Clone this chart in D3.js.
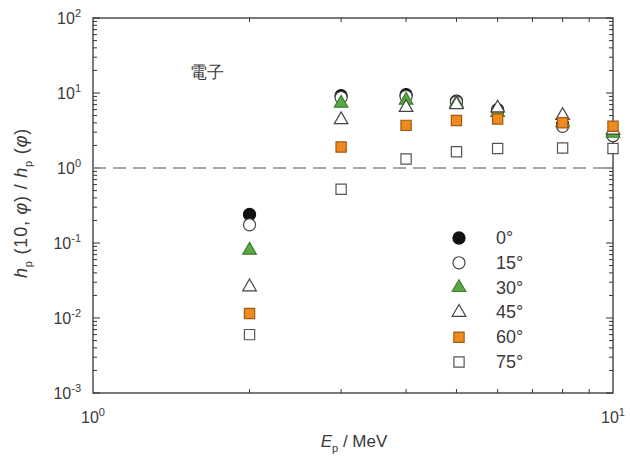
<!DOCTYPE html>
<html>
<head>
<meta charset="utf-8">
<script src="https://cdn.jsdelivr.net/npm/d3@7"></script>
<style>
  body { margin: 0; background: #fff; }
  text { font-family: "Liberation Sans", Arial, sans-serif; fill: #3a3a3a; }
</style>
</head>
<body>
<div id="chart"></div>
<script>
// energies (MeV)
const energies = [2, 3, 4, 5, 6, 8, 10];
const angles = ["0°", "15°", "30°", "45°", "60°", "75°"];
// ratio hp(10,φ)/hp(φ) for each angle
const r0 = [0.24, 9.2, 9.5, 7.8, 6.0, 3.8, 2.7];
const r15 = [0.175, 8.7, 9.0, 7.6, 5.8, 3.6, 2.7];
const r30 = [0.08, 7.3, 8.0, 7.3, 5.5, 4.0, 2.9];
const r45 = [0.026, 4.4, 6.4, 7.0, 6.3, 5.0, 3.2];
const r60 = [0.0115, 1.9, 3.7, 4.3, 4.5, 4.0, 3.6];
const r75 = [0.006, 0.52, 1.32, 1.65, 1.82, 1.85, 1.82];
const xDecades = [1, 10];
const yDecades = [1e-3, 1e-2, 1e-1, 1, 10, 100];

const series = [
  { name: angles[0], values: r0, shape: "circle", fill: "#111", stroke: "#111" },
  { name: angles[1], values: r15, shape: "circle", fill: "#fff", stroke: "#444" },
  { name: angles[2], values: r30, shape: "triangle", fill: "#5aa845", stroke: "#3e7f30" },
  { name: angles[3], values: r45, shape: "triangle", fill: "#fff", stroke: "#444" },
  { name: angles[4], values: r60, shape: "square", fill: "#f0891e", stroke: "#a05a10" },
  { name: angles[5], values: r75, shape: "square", fill: "#fff", stroke: "#555" },
];

const W = 630, H = 463;
const margin = { top: 18, right: 17, bottom: 70, left: 93 };
const width = W - margin.left - margin.right,
  height = H - margin.top - margin.bottom;

const svg = d3.select("#chart").append("svg")
  .attr("width", W).attr("height", H);
const g = svg.append("g").attr("transform", `translate(${margin.left}, ${margin.top})`);

const x = d3.scaleLog().domain([1, 10]).range([0, width]);
const y = d3.scaleLog().domain([1e-3, 100]).range([height, 0]);

// minor ticks
const xMinor = d3.range(2, 10);
const yMinor = [];
yDecades.slice(0, -1).forEach((d) => d3.range(2, 10).forEach((k) => yMinor.push(d * k)));

const tickColor = "#333";
const ticks = g.append("g").attr("stroke", tickColor).attr("stroke-width", 1);
xMinor.forEach((v) => {
  ticks.append("line").attr("x1", x(v)).attr("x2", x(v)).attr("y1", height).attr("y2", height - 4);
  ticks.append("line").attr("x1", x(v)).attr("x2", x(v)).attr("y1", 0).attr("y2", 4);
});
yMinor.forEach((v) => {
  ticks.append("line").attr("x1", 0).attr("x2", 4).attr("y1", y(v)).attr("y2", y(v));
  ticks.append("line").attr("x1", width).attr("x2", width - 4).attr("y1", y(v)).attr("y2", y(v));
});
yDecades.forEach((v) => {
  ticks.append("line").attr("x1", 0).attr("x2", 7).attr("y1", y(v)).attr("y2", y(v));
  ticks.append("line").attr("x1", width).attr("x2", width - 7).attr("y1", y(v)).attr("y2", y(v));
});

// frame
g.append("rect").attr("width", width).attr("height", height)
  .attr("fill", "none").attr("stroke", "#333").attr("stroke-width", 1.3);

// reference line at 1
g.append("line")
  .attr("x1", 0).attr("x2", width).attr("y1", y(1)).attr("y2", y(1))
  .attr("stroke", "#8a8a8a").attr("stroke-width", 1.5).attr("stroke-dasharray", "13,7");

// tick labels
const pow = (t, e) => {
  t.append("tspan").text("10");
  t.append("tspan").attr("dy", -7).attr("font-size", 11).text(e);
};
yDecades.forEach((v) => {
  const t = g.append("text").attr("x", -12).attr("y", y(v) + 6)
    .attr("text-anchor", "end").attr("font-size", 16);
  pow(t, Math.round(Math.log10(v)));
});
xDecades.forEach((v) => {
  const t = g.append("text").attr("x", x(v)).attr("y", height + 30)
    .attr("text-anchor", "middle").attr("font-size", 16);
  pow(t, Math.round(Math.log10(v)));
});

// markers
const sym = {
  circle: d3.symbol(d3.symbolCircle, 115),
  triangle: d3.symbol(d3.symbolTriangle, 80),
  square: d3.symbol(d3.symbolSquare, 105),
};
series.forEach((s) => {
  g.append("g").selectAll("path")
    .data(s.values.map((v, i) => [energies[i], v]))
    .join("path")
    .attr("d", sym[s.shape])
    .attr("transform", (d) => `translate(${x(d[0])}, ${y(d[1])})`)
    .attr("fill", s.fill).attr("stroke", s.stroke).attr("stroke-width", 1.2);
});

// legend
const legend = g.append("g").attr("transform", `translate(${459 - margin.left}, ${238 - margin.top})`);
series.forEach((s, i) => {
  const row = legend.append("g").attr("transform", `translate(0, ${i * 24.8})`);
  row.append("path").attr("d", sym[s.shape])
    .attr("fill", s.fill).attr("stroke", s.stroke).attr("stroke-width", 1.2);
  row.append("text").attr("x", 37).attr("y", 6).attr("font-size", 18).text(s.name);
});

// annotation
g.append("text").attr("x", 190 - margin.left).attr("y", 78 - margin.top)
  .attr("font-family", "Noto Sans CJK JP").attr("font-size", 17).text("電子");

// axis titles
const xt = svg.append("text").attr("x", 354).attr("y", 447)
  .attr("text-anchor", "middle").attr("font-size", 17);
xt.append("tspan").attr("font-style", "italic").text("E");
xt.append("tspan").attr("dy", 5).attr("font-size", 11).text("p");
xt.append("tspan").attr("dy", -5).text(" / MeV");

const yt = svg.append("text")
  .attr("transform", "translate(27, 203) rotate(-90)")
  .attr("text-anchor", "middle").attr("font-size", 18).attr("letter-spacing", 0.8);
yt.append("tspan").attr("font-style", "italic").text("h");
yt.append("tspan").attr("dy", 5).attr("font-size", 11).text("p");
yt.append("tspan").attr("dy", -5).text(" (10, ");
yt.append("tspan").attr("font-style", "italic").text("φ");
yt.append("tspan").text(")  /  ");
yt.append("tspan").attr("font-style", "italic").text("h");
yt.append("tspan").attr("dy", 5).attr("font-size", 11).text("p");
yt.append("tspan").attr("dy", -5).text(" (");
yt.append("tspan").attr("font-style", "italic").text("φ");
yt.append("tspan").text(")");
</script>
</body>
</html>
